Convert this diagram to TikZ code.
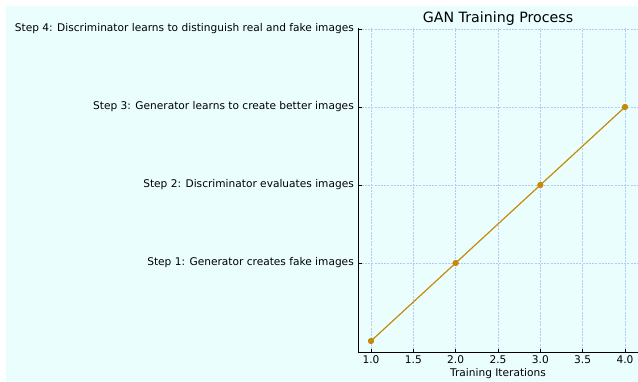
\documentclass[tikz,border=0pt]{standalone}
\usepackage{fontspec}
\setmainfont{DejaVu Sans}
\definecolor{bgc}{RGB}{234,254,254}
\definecolor{gridc}{RGB}{180,202,242}
\definecolor{linec}{RGB}{198,138,8}
\begin{document}
\begin{tikzpicture}[x=1pt,y=1pt,
  gridline/.style={draw=gridc,line width=0.7pt,dash pattern=on 2pt off 1.2pt},
  spine/.style={draw=black,line width=1pt},
  ticklab/.style={font=\fontsize{10.6}{12}\selectfont,inner sep=0pt},
  ptmark/.style={circle,fill=linec,inner sep=0pt,minimum size=6pt},
  dataline/.style={draw=linec,line width=1.2pt}]
\useasboundingbox (0,0) rectangle (638,382);
\fill[bgc] (6,0) rectangle (638,376);
% grid
\foreach \gx in {371,413.33,455.67,498,540.33,582.67,625}
  \draw[gridline] (\gx,30) -- (\gx,354);
\foreach \gy in {353,275,197,119}
  \draw[gridline] (358.5,\gy) -- (638,\gy);
% spines
\draw[spine] (358.5,354) -- (358.5,29.5) -- (638,29.5);
% ticks (inward)
\foreach \gy in {353,275,197,119}
  \draw[spine,line width=0.8pt] (358.5,\gy) -- (362,\gy);
\foreach \gx in {371,413.33,455.67,498,540.33,582.67,625}
  \draw[spine,line width=0.8pt] (\gx,29.5) -- (\gx,33);
% y tick labels
\node[ticklab,anchor=east] (s4) at (354,353) {Step 4: Discriminator learns to distinguish real and fake images};
\node[ticklab,anchor=east] (s3) at (354,275) {Step 3: Generator learns to create better images};
\node[ticklab,anchor=east] (s2) at (354,197) {Step 2: Discriminator evaluates images};
\node[ticklab,anchor=east] (s1) at (354,119) {Step 1: Generator creates fake images};
% x tick labels
\node[ticklab] (x10) at (371,22) {1.0};
\node[ticklab] (x15) at (413.33,22) {1.5};
\node[ticklab] (x20) at (455.67,22) {2.0};
\node[ticklab] (x25) at (498,22) {2.5};
\node[ticklab] (x30) at (540.33,22) {3.0};
\node[ticklab] (x35) at (582.67,22) {3.5};
\node[ticklab] (x40) at (625,22) {4.0};
\node[ticklab] (xlab) at (498,8) {Training Iterations};
\node[font=\fontsize{14.2}{17}\selectfont,inner sep=0pt] (title) at (498,363) {GAN Training Process};
% data
\node[ptmark] (p1) at (371,41) {};
\node[ptmark] (p2) at (455.67,119) {};
\node[ptmark] (p3) at (540.33,197) {};
\node[ptmark] (p4) at (625,275) {};
\draw[dataline] (p1.center) -- (p2.center) -- (p3.center) -- (p4.center);
\foreach \p in {p1,p2,p3,p4} \fill[linec] (\p) circle (3pt);
\end{tikzpicture}
\end{document}
